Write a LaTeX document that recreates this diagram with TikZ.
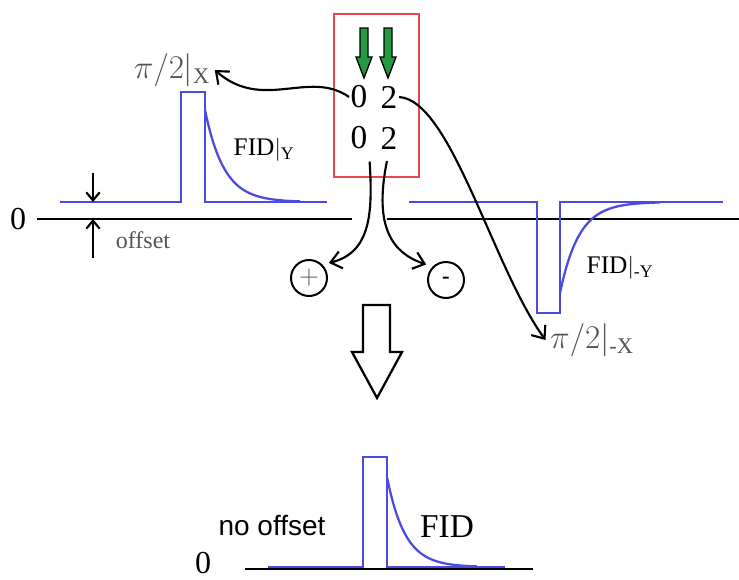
\documentclass[tikz,border=0pt]{standalone}
\usepackage{amsmath}
\usepackage{fontspec}
\setmainfont{Liberation Serif}
\newfontfamily\labelsans{Liberation Sans}
\usetikzlibrary{arrows.meta}
\definecolor{SignalBlue}{RGB}{75,75,225}
\definecolor{BoxRed}{RGB}{235,70,80}
\definecolor{PulseGreen}{RGB}{35,155,65}
\definecolor{LabelGray}{RGB}{85,85,85}

\begin{document}
\begin{tikzpicture}[x=0.75pt,y=-0.75pt]
  \useasboundingbox (0,0) rectangle (739,579);
  \tikzset{
    SignalStyle/.style = {SignalBlue, line width=1.7pt},
    AxisStyle/.style = {black, line width=1.7pt},
    EdgeStyle/.style = {line width=1.6pt, -{Straight Barb[length=8pt,width=13pt]}},
    OffsetStyle/.style = {line width=1.6pt, -{Straight Barb[length=6pt,width=10pt]}},
    DigitStyle/.style = {font=\fontsize{25}{28}\selectfont, inner sep=1pt},
    SignStyle/.style = {draw, circle, line width=1.5pt, minimum size=27pt, inner sep=0pt}
  }

  % Axes
  \draw[AxisStyle] (37,219) -- (352,219);
  \draw[AxisStyle] (387,219) -- (739,219);
  \draw[AxisStyle] (245,569) -- (533,569);

  % Signals
  \draw[SignalStyle] (60,202) -- (181,202) -- (181,92) -- (205,92) -- (205,202) -- (327,202);
  \draw[SignalStyle] plot[domain=0:95,samples=60] ({205+\x},{202-92*exp(-\x/19)});
  \draw[SignalStyle] (409,202) -- (537,202) -- (537,313) -- (560,313) -- (560,202) -- (723,202);
  \draw[SignalStyle] plot[domain=0:100,samples=60] ({560+\x},{202+91*exp(-\x/19)});
  \draw[SignalStyle] (268,567) -- (363,567) -- (363,457) -- (387,457) -- (387,567) -- (505,567);
  \draw[SignalStyle] plot[domain=0:90,samples=60] ({387+\x},{567-90*exp(-\x/18)});

  % Box with the two pulses
  \draw[BoxRed, line width=1.7pt] (334,14) rectangle (419,177);
  \foreach \gx in {364,388}
    \draw[fill=PulseGreen, line width=1pt] (\gx-4,28) -- (\gx+4,28) -- (\gx+4,57) -- (\gx+8,57)
      -- (\gx,78) -- (\gx-8,57) -- (\gx-4,57) -- cycle;
  \node[DigitStyle] (r1a) at (359,97) {0};
  \node[DigitStyle] (r1b) at (389,97) {2};
  \node[DigitStyle] (r2a) at (359,138) {0};
  \node[DigitStyle] (r2b) at (389,138) {2};

  % Labels
  \node[font=\fontsize{24}{26}\selectfont] (zeroUp) at (18,219) {0};
  \node[font=\fontsize{24}{26}\selectfont, inner sep=0pt] (zeroDown) at (203,563) {0};
  \node[LabelGray, font=\fontsize{18}{20}\selectfont] (offset) at (143,240) {offset};
  \node[LabelGray, font=\fontsize{24}{26}\selectfont] (lblX) at (172,70) {$\pi/2|_{\mathrm{X}}$};
  \node[LabelGray, font=\fontsize{24}{26}\selectfont] (lblmX) at (592,340) {$\pi/2|_{\text{-X}}$};
  \node[anchor=west, font=\fontsize{19}{22}\selectfont] (fidY) at (229,150) {FID$|_{\mathrm{Y}}$};
  \node[anchor=west, font=\fontsize{19}{22}\selectfont] (fidmY) at (582,268) {FID$|_{\text{-Y}}$};
  \node[font=\fontsize{25}{28}\selectfont] (fid) at (447,527) {FID};
  \node[font=\labelsans\fontsize{21}{24}\selectfont] (nooff) at (272,525) {no offset};
  \node[SignStyle] (plus) at (309,278) {\color{LabelGray}\fontsize{22}{24}\selectfont$+$};
  \node[SignStyle] (minus) at (446,280) {\bfseries\fontsize{17}{18}\selectfont -};

  % Offset marks
  \coordinate (offTop) at (93,173);
  \coordinate (offBase) at (93,202);
  \coordinate (offLow) at (93,258);
  \coordinate (offZero) at (93,219);
  \draw[OffsetStyle] (offTop) -- (offBase);
  \draw[OffsetStyle] (offLow) -- (offZero);

  % Edges
  \draw[EdgeStyle] (r1a.west) .. controls +(-40,-28) and +(48,42) .. (lblX.east);
  \draw[EdgeStyle] (r1b.east) .. controls +(52,3) and +(-53,-73) .. (lblmX.west);
  \draw[EdgeStyle, shorten <=8pt, shorten >=5pt] (r2a.south east) .. controls +(4,63) and +(48,-12) .. (plus.north east);
  \draw[EdgeStyle, shorten <=8pt, shorten >=5pt] (r2b.south) .. controls +(-14,70) and +(-45,-15) .. (minus.north west);

  % Big arrow
  \draw[line width=1.7pt] (363,305) -- (390,305) -- (390,352) -- (402,352) -- (377,398) -- (352,352) -- (363,352) -- cycle;
\end{tikzpicture}
\end{document}
